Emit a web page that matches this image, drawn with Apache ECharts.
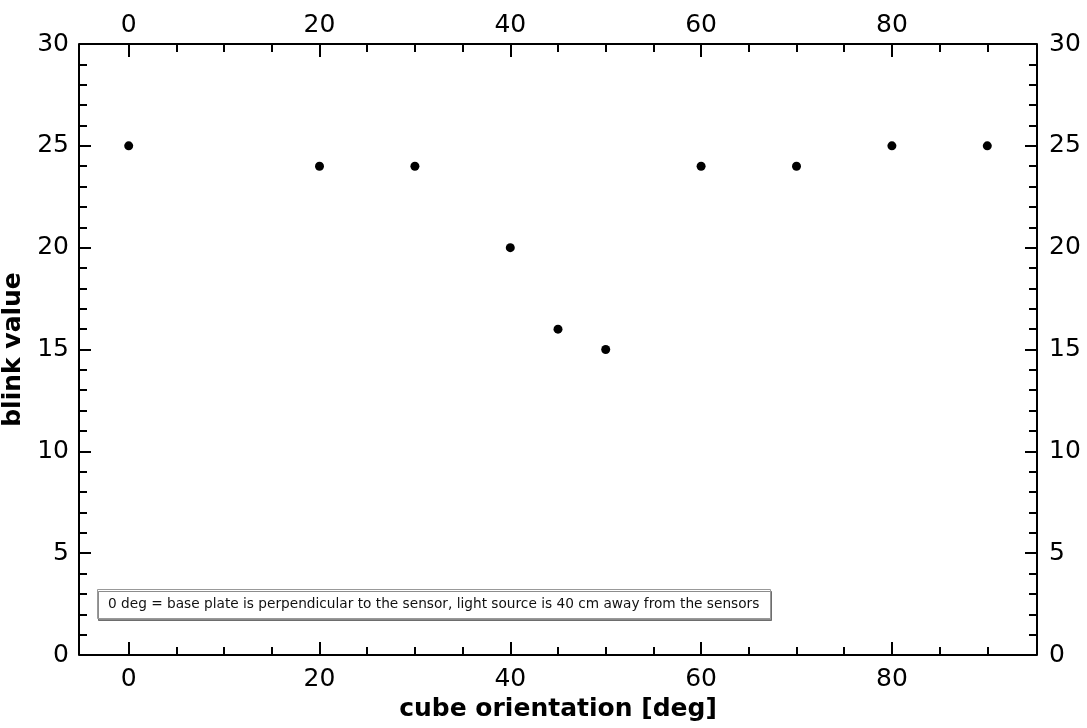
<!DOCTYPE html>
<html>
<head>
<meta charset="utf-8">
<script src="https://cdn.jsdelivr.net/npm/echarts@6/dist/echarts.min.js"></script>
<style>
html,body{margin:0;padding:0;background:#fff;}
#chart{width:1087px;height:728px;}
</style>
</head>
<body>
<div id="chart"></div>
<script>
var orientationDeg = [0, 20, 30, 40, 45, 50, 60, 70, 80, 90];
var blinkValue = [25, 24, 24, 20, 16, 15, 24, 24, 25, 25];
var xTickValues = [0, 20, 40, 60, 80];
var yTickValues = [0, 5, 10, 15, 20, 25, 30];
var xTitle = 'cube orientation [deg]';
var yTitle = 'blink value';
var note = '0 deg = base plate is perpendicular to the sensor, light source is 40 cm away from the sensors';

var points = orientationDeg.map(function (x, i) { return [x, blinkValue[i]]; });

var font = 'DejaVu Sans';
var lineStyle = { color: '#000', width: 2 };

function xAxisCfg(pos, show) {
  return {
    type: 'value', position: pos, min: -5, max: 95, splitNumber: 5,
    axisLine: { show: true, onZero: false, lineStyle: lineStyle },
    axisTick: { show: true, inside: true, length: 13, lineStyle: lineStyle, customValues: xTickValues },
    minorTick: { show: true, splitNumber: 4, length: 8, lineStyle: lineStyle },
    splitLine: { show: false },
    axisLabel: { show: true, customValues: xTickValues, fontFamily: font, fontSize: 25, color: '#000', margin: pos === 'top' ? 6 : 12 },
    name: show ? xTitle : '',
    nameLocation: 'middle', nameGap: 33,
    nameTextStyle: { fontFamily: font, fontSize: 25, fontWeight: 'bold', color: '#000' }
  };
}
function yAxisCfg(pos, show) {
  return {
    type: 'value', position: pos, min: 0, max: 30, interval: 5, offset: 2,
    axisLine: { show: true, onZero: false, lineStyle: lineStyle },
    axisTick: { show: true, inside: true, length: 12, lineStyle: lineStyle, customValues: yTickValues },
    minorTick: { show: true, splitNumber: 5, length: 8, lineStyle: lineStyle },
    splitLine: { show: false },
    axisLabel: { show: true, customValues: yTickValues, fontFamily: font, fontSize: 25, color: '#000', margin: pos === 'left' ? 10 : 12 },
    name: show ? yTitle : '',
    nameLocation: 'middle', nameGap: 47,
    nameTextStyle: { fontFamily: font, fontSize: 25, fontWeight: 'bold', color: '#000' }
  };
}

var chart = echarts.init(document.getElementById('chart'), null, { renderer: 'canvas' });
chart.setOption({
  animation: false,
  backgroundColor: '#fff',
  grid: { left: 81, right: 52, top: 44, bottom: 73, containLabel: false, outerBoundsMode: 'none' },
  title: {
    text: note,
    left: 97, top: 589,
    padding: [8, 11, 8, 11],
    backgroundColor: '#fff',
    borderColor: '#999',
    borderWidth: 1,
    shadowColor: 'rgba(0,0,0,0.45)',
    shadowOffsetX: 1, shadowOffsetY: 2, shadowBlur: 0,
    textStyle: { fontFamily: font, fontSize: 13.7, fontWeight: 'normal', color: '#111' }
  },
  xAxis: [xAxisCfg('bottom', true), xAxisCfg('top', false)],
  yAxis: [yAxisCfg('left', true), yAxisCfg('right', false)],
  series: [{
    type: 'scatter',
    data: points,
    symbol: 'circle',
    symbolSize: 9,
    itemStyle: { color: '#000', opacity: 1 }
  }]
});
</script>
</body>
</html>
